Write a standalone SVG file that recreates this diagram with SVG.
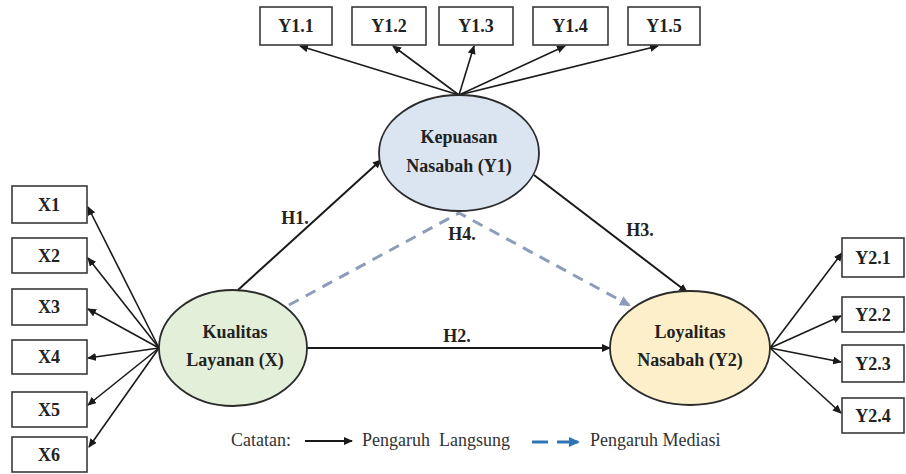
<svg xmlns="http://www.w3.org/2000/svg" width="906" height="474" viewBox="0 0 906 474">
<style>
.box{fill:#fff;stroke:#3a3a3a;stroke-width:1.6}
.lbl{font-family:'Liberation Serif','Times New Roman','DejaVu Serif',serif;font-weight:bold;font-size:18px;fill:#222;text-anchor:middle}
.leg{font-family:'Liberation Serif','Times New Roman','DejaVu Serif',serif;font-size:18px;fill:#333}
.ell{stroke:#2b2b2b;stroke-width:1.8}
.ln{stroke:#1a1a1a;stroke-width:1.6;fill:none}
.main{stroke:#1a1a1a;stroke-width:2;fill:none}
.dash{stroke:#8c9dba;stroke-width:3;stroke-dasharray:11 8;fill:none}
</style>
<defs>
<marker id="ah" markerUnits="userSpaceOnUse" markerWidth="9" markerHeight="8" refX="8" refY="4" orient="auto">
<path d="M0,0 L9,4 L0,8 z" fill="#1a1a1a"/>
</marker>
<marker id="ahd" markerUnits="userSpaceOnUse" markerWidth="11" markerHeight="10" refX="9" refY="5" orient="auto">
<path d="M0,0 L11,5 L0,10 z" fill="#8c9dba"/>
</marker>
<marker id="ahb" markerUnits="userSpaceOnUse" markerWidth="11" markerHeight="10" refX="9" refY="5" orient="auto">
<path d="M0,0 L11,5 L0,10 z" fill="#2e75b6"/>
</marker>
</defs>
<g id="connectors">
<line class="ln" x1="459" y1="95" x2="300" y2="46" marker-end="url(#ah)"/>
<line class="ln" x1="459" y1="95" x2="393" y2="46" marker-end="url(#ah)"/>
<line class="ln" x1="459" y1="95" x2="474" y2="46" marker-end="url(#ah)"/>
<line class="ln" x1="459" y1="95" x2="565" y2="46" marker-end="url(#ah)"/>
<line class="ln" x1="459" y1="95" x2="658" y2="46" marker-end="url(#ah)"/>
<line class="ln" x1="159" y1="348" x2="88" y2="207" marker-end="url(#ah)"/>
<line class="ln" x1="159" y1="348" x2="88" y2="258" marker-end="url(#ah)"/>
<line class="ln" x1="159" y1="348" x2="88" y2="309" marker-end="url(#ah)"/>
<line class="ln" x1="159" y1="348" x2="88" y2="358" marker-end="url(#ah)"/>
<line class="ln" x1="159" y1="348" x2="88" y2="405" marker-end="url(#ah)"/>
<line class="ln" x1="159" y1="348" x2="89" y2="447" marker-end="url(#ah)"/>
<line class="ln" x1="770" y1="348" x2="842" y2="253" marker-end="url(#ah)"/>
<line class="ln" x1="770" y1="348" x2="841" y2="316" marker-end="url(#ah)"/>
<line class="ln" x1="770" y1="348" x2="841" y2="362" marker-end="url(#ah)"/>
<line class="ln" x1="770" y1="348" x2="841" y2="413" marker-end="url(#ah)"/>
<line class="main" x1="238" y1="290" x2="381" y2="160" marker-end="url(#ah)"/>
<line class="main" x1="307" y1="348" x2="610" y2="348" marker-end="url(#ah)"/>
<line class="main" x1="534" y1="175" x2="687" y2="292" marker-end="url(#ah)"/>
<polyline class="dash" points="289,305 459,213 629,305" marker-end="url(#ahd)"/>
<text class="lbl" x="295" y="224">H1.</text>
<text class="lbl" x="462" y="240">H4.</text>
<text class="lbl" x="640" y="236">H3.</text>
<text class="lbl" x="457" y="342">H2.</text>
</g>
<g id="Y1.1"><rect class="box" x="260" y="7" width="72" height="38"/><text class="lbl" x="296" y="32">Y1.1</text></g>
<g id="Y1.2"><rect class="box" x="352" y="7" width="74" height="38"/><text class="lbl" x="389" y="32">Y1.2</text></g>
<g id="Y1.3"><rect class="box" x="439" y="7" width="74" height="38"/><text class="lbl" x="476" y="32">Y1.3</text></g>
<g id="Y1.4"><rect class="box" x="533" y="7" width="75" height="38"/><text class="lbl" x="570" y="32">Y1.4</text></g>
<g id="Y1.5"><rect class="box" x="628" y="7" width="72" height="38"/><text class="lbl" x="664" y="32">Y1.5</text></g>
<g id="X1"><rect class="box" x="12" y="186" width="75" height="37"/><text class="lbl" x="49" y="211">X1</text></g>
<g id="X2"><rect class="box" x="12" y="238" width="75" height="35"/><text class="lbl" x="49" y="262">X2</text></g>
<g id="X3"><rect class="box" x="12" y="289" width="75" height="36"/><text class="lbl" x="49" y="313">X3</text></g>
<g id="X4"><rect class="box" x="12" y="340" width="75" height="34"/><text class="lbl" x="49" y="363">X4</text></g>
<g id="X5"><rect class="box" x="12" y="392" width="75" height="35"/><text class="lbl" x="49" y="416">X5</text></g>
<g id="X6"><rect class="box" x="12" y="437" width="75" height="35"/><text class="lbl" x="49" y="461">X6</text></g>
<g id="Y2.1"><rect class="box" x="842" y="238" width="62" height="39"/><text class="lbl" x="873" y="264">Y2.1</text></g>
<g id="Y2.2"><rect class="box" x="842" y="297" width="62" height="35"/><text class="lbl" x="873" y="321">Y2.2</text></g>
<g id="Y2.3"><rect class="box" x="842" y="345" width="62" height="37"/><text class="lbl" x="873" y="370">Y2.3</text></g>
<g id="Y2.4"><rect class="box" x="842" y="398" width="62" height="35"/><text class="lbl" x="873" y="422">Y2.4</text></g>
<g id="Y1"><ellipse class="ell" cx="459" cy="153" rx="80" ry="58" fill="#dbe5f2"/><text class="lbl" x="459" y="143">Kepuasan</text><text class="lbl" x="459" y="172">Nasabah (Y1)</text></g>
<g id="X"><ellipse class="ell" cx="233" cy="348" rx="74" ry="58" fill="#e3efd9"/><text class="lbl" x="235" y="338">Kualitas</text><text class="lbl" x="235" y="366">Layanan (X)</text></g>
<g id="Y2"><ellipse class="ell" cx="690" cy="348" rx="80" ry="57" fill="#fdefc9"/><text class="lbl" x="690" y="338">Loyalitas</text><text class="lbl" x="690" y="366">Nasabah (Y2)</text></g>
<g id="legend">
<text class="leg" x="231" y="446">Catatan:</text>
<line x1="305" y1="441" x2="352" y2="441" stroke="#1a1a1a" stroke-width="2" marker-end="url(#ah)"/>
<text class="leg" x="362" y="446" xml:space="preserve">Pengaruh  Langsung</text>
<line x1="532" y1="442" x2="548" y2="442" stroke="#2e75b6" stroke-width="3"/>
<line x1="557" y1="442" x2="578" y2="442" stroke="#2e75b6" stroke-width="3" marker-end="url(#ahb)"/>
<text class="leg" x="590" y="446">Pengaruh Mediasi</text>
</g>
</svg>
